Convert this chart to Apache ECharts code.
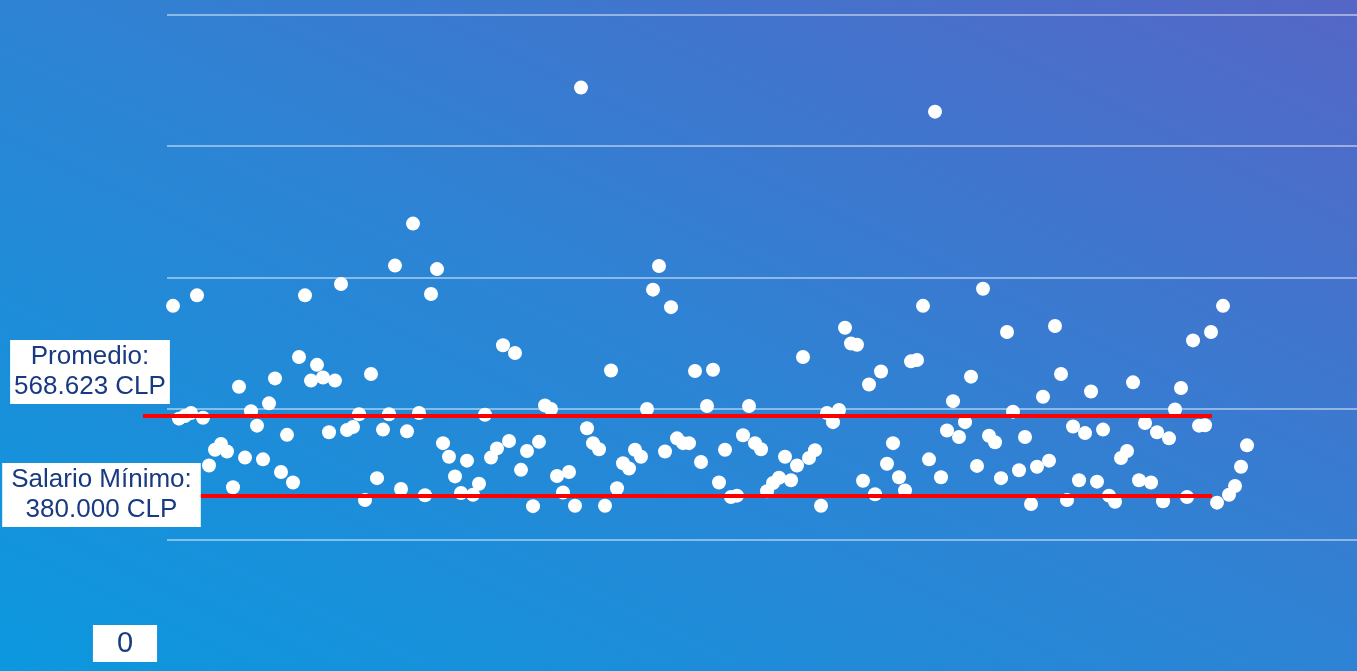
<!DOCTYPE html>
<html>
<head>
<meta charset="utf-8">
<script src="https://cdn.jsdelivr.net/npm/echarts@6/dist/echarts.min.js"></script>
<style>
    html, body { margin: 0; padding: 0; }
    #sueldosContainer { width: 1357px; height: 671px; }
</style>
</head>
<body>
<div id="sueldosContainer"></div>
<script>
// sueldo de cada persona (miles de CLP), en el orden del gráfico
var sueldos = [
    835, 577, 583, 590, 859, 579, 470, 506, 519, 502,
    420, 650, 488, 594, 561, 484, 612, 669, 455, 540,
    431, 718, 859, 664, 700, 671, 546, 664, 885, 551,
    558, 587, 391, 679, 441, 552, 587, 927, 416, 548,
    1023, 590, 402, 862, 919, 521, 490, 445, 407, 481,
    403, 428, 586, 488, 509, 745, 526, 727, 460, 503,
    377, 524, 607, 599, 446, 408, 455, 378, 1334, 555,
    521, 507, 378, 687, 418, 475, 463, 506, 490, 599,
    872, 926, 502, 832, 532, 521, 521, 686, 478, 606,
    689, 431, 506, 398, 401, 539, 606, 521, 507, 411,
    430, 442, 490, 436, 470, 718, 487, 505, 378, 590,
    569, 597, 785, 749, 746, 435, 655, 404, 685, 474,
    521, 443, 413, 708, 711, 835, 484, 1279, 443, 550,
    617, 535, 569, 673, 469, 874, 538, 523, 441, 775,
    593, 459, 535, 382, 467, 627, 481, 789, 679, 391,
    559, 436, 544, 639, 433, 552, 401, 387, 487, 503,
    660, 436, 567, 431, 546, 388, 532, 598, 647, 398,
    756, 561, 562, 775, 385, 835, 403, 423, 467, 516
]

// líneas de referencia (altura a la que están dibujadas en el gráfico)
var refNombres = ['Promedio:', 'Salario Mínimo:']
var refTextos = ['568.623 CLP', '380.000 CLP']
var refValores = [584, 401]

// eje y
var yMin = 0
var yMax = 1500
var yPaso = 300

var puntos = sueldos.map(function (v, i) { return [i, v] })

var chart = echarts.init(document.getElementById('sueldosContainer'))

var fuente = '"Liberation Sans", Arial, sans-serif'
var azul = '#173a80'

var option = {
    animation: false,
    // fondo degradado: celeste abajo a la izquierda, violeta arriba a la derecha
    backgroundColor: {
        type: 'linear',
        x: 412, y: 875, x2: 945, y2: -204,
        global: true,
        colorStops: [
            { offset: 0, color: '#0b98de' },
            { offset: 0.5, color: '#2e83d4' },
            { offset: 1, color: '#5566c6' }
        ]
    },
    grid: [
        { left: 167, right: 0, top: 15, bottom: 0 },
        // misma escala, solo para las líneas rojas que salen un poco del área
        { left: 143, right: 145, top: 15, bottom: 0 }
    ],
    xAxis: [
        { type: 'value', min: -1, max: 197.33, show: false },
        { type: 'value', gridIndex: 1, min: 0, max: 1, show: false }
    ],
    yAxis: [
        {
            type: 'value',
            min: yMin,
            max: yMax,
            interval: yPaso,
            axisLine: { show: false },
            axisTick: { show: false },
            axisLabel: { show: false },
            splitLine: {
                show: true,
                showMinLine: false,
                lineStyle: { color: 'rgba(255,255,255,0.6)', width: 1.5 }
            }
        },
        { type: 'value', gridIndex: 1, min: yMin, max: yMax, show: false }
    ],
    series: [
        {
            name: 'Sueldos',
            type: 'scatter',
            data: puntos,
            symbolSize: 14,
            itemStyle: { color: '#ffffff', opacity: 1 },
            z: 3
        },
        {
            name: 'Referencias',
            type: 'scatter',
            xAxisIndex: 1,
            yAxisIndex: 1,
            data: [[0, 0]],
            symbolSize: 0,
            z: 5,
            markLine: {
                silent: true,
                symbol: ['none', 'none'],
                label: { show: false },
                lineStyle: { color: '#ff0000', width: 4, type: 'solid' },
                data: refValores.map(function (v) { return { yAxis: v } })
            }
        }
    ],
    graphic: [
        {
            type: 'text', z: 100, x: 90, y: 340,
            style: {
                text: refNombres[0] + '\n' + refTextos[0],
                fill: azul, fontSize: 26, fontFamily: fuente, lineHeight: 30,
                align: 'center', verticalAlign: 'top',
                backgroundColor: '#ffffff', padding: [2, 4]
            }
        },
        {
            type: 'text', z: 100, x: 101.5, y: 463,
            style: {
                text: refNombres[1] + '\n' + refTextos[1],
                fill: azul, fontSize: 26, fontFamily: fuente, lineHeight: 30,
                align: 'center', verticalAlign: 'top',
                backgroundColor: '#ffffff', padding: [2, 9]
            }
        },
        {
            type: 'text', z: 100, x: 125, y: 625,
            style: {
                text: String(yMin),
                fill: azul, fontSize: 29, fontFamily: fuente, lineHeight: 33,
                align: 'center', verticalAlign: 'top',
                backgroundColor: '#ffffff', padding: [2, 24]
            }
        }
    ]
}

chart.setOption(option)
</script>
</body>
</html>
